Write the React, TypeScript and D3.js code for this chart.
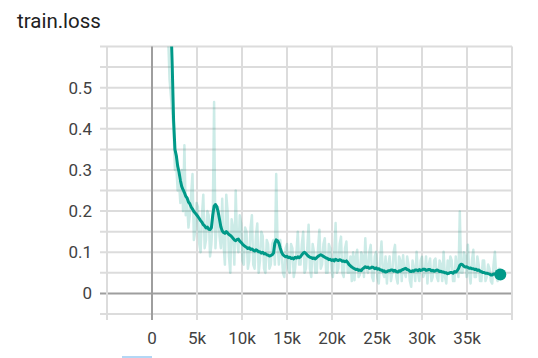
import React from "react";
import * as d3 from "d3";

const TITLE = "train.loss";
const STEP_START = 1500;
const STEP_EVERY = 150;

// raw loss values, one per logged step (every 150 steps from 1500)
const rawLoss = [
  0.95, 0.78, 0.62, 0.52, 0.48, 0.44, 0.4, 0.3, 0.31, 0.25, 0.27, 0.22, 0.3, 0.2, 0.36, 0.19, 0.22, 0.16, 0.19, 0.24,
  0.29, 0.13, 0.15, 0.22, 0.21, 0.12, 0.1, 0.19, 0.24, 0.11, 0.13, 0.2, 0.19, 0.09, 0.12, 0.18, 0.465, 0.11, 0.17, 0.21,
  0.14, 0.11, 0.23, 0.12, 0.07, 0.24, 0.2, 0.09, 0.05, 0.18, 0.16, 0.07, 0.25, 0.13, 0.1, 0.19, 0.17, 0.08, 0.07, 0.16,
  0.15, 0.06, 0.08, 0.16, 0.19, 0.07, 0.06, 0.14, 0.17, 0.05, 0.08, 0.15, 0.14, 0.06, 0.05, 0.13, 0.12, 0.06, 0.07, 0.12,
  0.13, 0.07, 0.29, 0.12, 0.07, 0.13, 0.1, 0.05, 0.04, 0.11, 0.12, 0.06, 0.05, 0.12, 0.11, 0.04, 0.06, 0.1, 0.15, 0.07,
  0.07, 0.12, 0.15, 0.05, 0.06, 0.11, 0.167, 0.06, 0.04, 0.12, 0.1, 0.05, 0.05, 0.11, 0.155, 0.06, 0.07, 0.12, 0.134, 0.05,
  0.05, 0.12, 0.11, 0.06, 0.04, 0.1, 0.171, 0.05, 0.06, 0.12, 0.138, 0.05, 0.04, 0.11, 0.126, 0.05, 0.05, 0.09, 0.03, 0.1,
  0.032, 0.09, 0.106, 0.04, 0.045, 0.1, 0.09, 0.04, 0.134, 0.06, 0.05, 0.1, 0.118, 0.04, 0.03, 0.09, 0.101, 0.04, 0.024, 0.08,
  0.126, 0.05, 0.04, 0.09, 0.024, 0.07, 0.09, 0.03, 0.05, 0.1, 0.118, 0.04, 0.024, 0.09, 0.08, 0.03, 0.093, 0.05, 0.04, 0.09,
  0.07, 0.03, 0.016, 0.08, 0.06, 0.03, 0.101, 0.05, 0.03, 0.08, 0.089, 0.04, 0.05, 0.09, 0.024, 0.07, 0.085, 0.03, 0.04, 0.08,
  0.085, 0.04, 0.03, 0.08, 0.07, 0.03, 0.101, 0.04, 0.024, 0.08, 0.05, 0.09, 0.08, 0.03, 0.03, 0.09, 0.06, 0.04, 0.199, 0.05,
  0.05, 0.1, 0.09, 0.04, 0.118, 0.05, 0.024, 0.08, 0.106, 0.04, 0.04, 0.09, 0.07, 0.03, 0.03, 0.08, 0.08, 0.03, 0.04, 0.07,
  0.06, 0.03, 0.024, 0.07, 0.101, 0.04, 0.03, 0.06, 0.04,
];

// smoothed loss values (same steps)
const smoothLoss = [
  0.95, 0.9, 0.85, 0.76, 0.66, 0.55, 0.42, 0.35, 0.335, 0.31, 0.295, 0.275, 0.26, 0.252, 0.245, 0.236, 0.232, 0.222, 0.218, 0.21,
  0.205, 0.199, 0.195, 0.191, 0.187, 0.182, 0.177, 0.173, 0.167, 0.164, 0.159, 0.161, 0.156, 0.155, 0.16, 0.19, 0.212, 0.216, 0.211, 0.198,
  0.18, 0.162, 0.152, 0.148, 0.146, 0.15, 0.147, 0.143, 0.141, 0.138, 0.134, 0.13, 0.128, 0.131, 0.132, 0.127, 0.124, 0.12, 0.117, 0.114,
  0.112, 0.109, 0.111, 0.107, 0.108, 0.105, 0.103, 0.106, 0.104, 0.101, 0.101, 0.098, 0.1, 0.096, 0.097, 0.094, 0.093, 0.091, 0.092, 0.094,
  0.098, 0.122, 0.13, 0.128, 0.122, 0.11, 0.1, 0.094, 0.091, 0.089, 0.09, 0.087, 0.088, 0.085, 0.086, 0.084, 0.088, 0.086, 0.089, 0.087,
  0.089, 0.094, 0.098, 0.1, 0.097, 0.093, 0.09, 0.088, 0.087, 0.085, 0.086, 0.084, 0.087, 0.09, 0.092, 0.094, 0.092, 0.09, 0.088, 0.086,
  0.085, 0.082, 0.083, 0.08, 0.082, 0.079, 0.083, 0.081, 0.08, 0.082, 0.081, 0.078, 0.079, 0.077, 0.079, 0.075, 0.07, 0.067, 0.064, 0.062,
  0.06, 0.058, 0.059, 0.056, 0.057, 0.055, 0.06, 0.062, 0.065, 0.063, 0.064, 0.061, 0.062, 0.064, 0.063, 0.06, 0.062, 0.059, 0.06, 0.057,
  0.057, 0.054, 0.055, 0.052, 0.053, 0.055, 0.055, 0.057, 0.057, 0.054, 0.056, 0.053, 0.052, 0.055, 0.054, 0.057, 0.058, 0.06, 0.061, 0.058,
  0.057, 0.054, 0.053, 0.055, 0.054, 0.057, 0.057, 0.055, 0.058, 0.056, 0.057, 0.059, 0.059, 0.056, 0.057, 0.058, 0.058, 0.055, 0.056, 0.054,
  0.055, 0.057, 0.056, 0.053, 0.054, 0.052, 0.052, 0.05, 0.05, 0.048, 0.049, 0.051, 0.051, 0.049, 0.053, 0.052, 0.055, 0.06, 0.068, 0.071,
  0.07, 0.066, 0.064, 0.065, 0.063, 0.061, 0.062, 0.06, 0.06, 0.058, 0.059, 0.056, 0.057, 0.054, 0.053, 0.051, 0.051, 0.049, 0.049, 0.048,
  0.047, 0.045, 0.045, 0.047, 0.047, 0.045, 0.046, 0.047, 0.046,
];

const xGrid = [-5000, 0, 5000, 10000, 15000, 20000, 25000, 30000, 35000, 40000];
const xLabels = ["0", "5k", "10k", "15k", "20k", "25k", "30k", "35k"];
const xLabelValues = [0, 5000, 10000, 15000, 20000, 25000, 30000, 35000];
const yGrid = [-0.05, 0, 0.05, 0.1, 0.15, 0.2, 0.25, 0.3, 0.35, 0.4, 0.45, 0.5, 0.55, 0.6];
const yLabels = ["0", "0.1", "0.2", "0.3", "0.4", "0.5"];
const yLabelValues = [0, 0.1, 0.2, 0.3, 0.4, 0.5];

const COLOR = "#009988";

export default function App() {
  const W = 538, H = 358;
  const x = d3.scaleLinear().domain([-5000, 40000]).range([107, 512]);
  const y = d3.scaleLinear().domain([-0.05, 0.6]).range([314, 46.5]);
  const stepOf = (i: number) => STEP_START + i * STEP_EVERY;
  const line = d3
    .line<number>()
    .x((_, i) => x(stepOf(i)))
    .y((d) => y(d));
  const lastI = smoothLoss.length - 1;
  const font = "Roboto, 'Noto Sans', sans-serif";

  return (
    <svg
      width={W}
      height={H}
      style={{ position: "absolute", left: 0, top: 0, background: "#fff" }}
    >
      <defs>
        <clipPath id="plot">
          <rect x={107} y={46.5} width={405} height={267.5} />
        </clipPath>
      </defs>
      <text x={17} y={27.5} fontFamily={font} fontSize={20.5} fill="#212121">
        {TITLE}
      </text>
      {yGrid.map((v) => (
        <line
          key={"h" + v}
          x1={100}
          x2={512}
          y1={y(v)}
          y2={y(v)}
          stroke={v === 0 ? "#9e9e9e" : "#dcdcdc"}
          strokeWidth={2}
        />
      ))}
      {xGrid.map((v) => (
        <line
          key={"v" + v}
          x1={x(v)}
          x2={x(v)}
          y1={46.5}
          y2={320}
          stroke={v === 0 ? "#9e9e9e" : "#dcdcdc"}
          strokeWidth={2}
        />
      ))}
      {yLabelValues.map((v, i) => (
        <text
          key={"yl" + v}
          x={92}
          y={y(v)}
          textAnchor="end"
          dominantBaseline="central"
          fontFamily={font}
          fontSize={17}
          fill="#424242"
        >
          {yLabels[i]}
        </text>
      ))}
      {xLabelValues.map((v, i) => (
        <text
          key={"xl" + v}
          x={x(v)}
          y={343.5}
          textAnchor="middle"
          fontFamily={font}
          fontSize={17}
          fill="#424242"
        >
          {xLabels[i]}
        </text>
      ))}
      <g clipPath="url(#plot)">
        <path
          d={line(rawLoss) || ""}
          fill="none"
          stroke={COLOR}
          strokeOpacity={0.2}
          strokeWidth={2.5}
          strokeLinejoin="round"
        />
        <path
          d={line(smoothLoss) || ""}
          fill="none"
          stroke={COLOR}
          strokeWidth={3}
          strokeLinejoin="round"
        />
      </g>
      <circle cx={x(stepOf(lastI))} cy={y(smoothLoss[lastI])} r={6} fill={COLOR} />
      <rect x={122} y={356} width={30} height={2} fill="#b3d7f5" />
    </svg>
  );
}
